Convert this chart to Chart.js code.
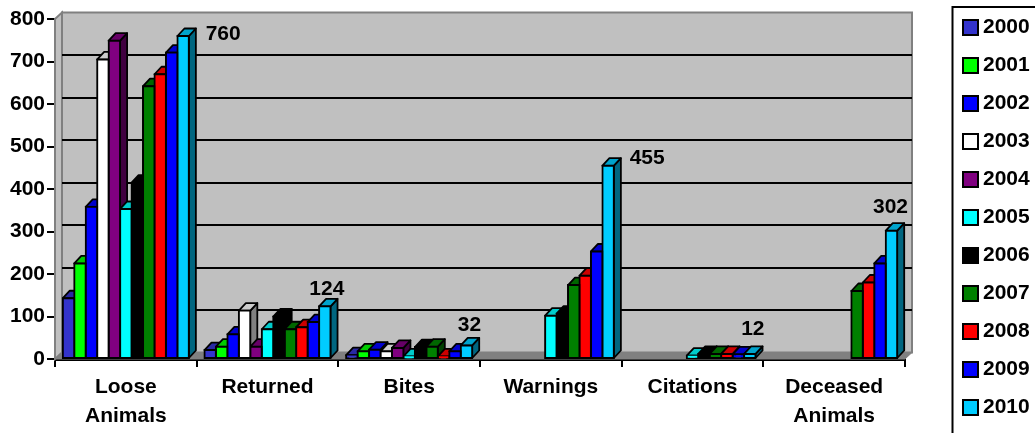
<!DOCTYPE html>
<html>
<head>
<meta charset="utf-8">
<title>Animal control</title>
<script src="https://cdn.jsdelivr.net/npm/chart.js@4"></script>
<style>
  html, body { margin: 0; padding: 0; background: #fff; overflow: hidden; }
  canvas { display: block; }
</style>
</head>
<body>
<canvas id="chart" width="1035" height="460"></canvas>
<script>
const categories = [['Loose', 'Animals'], 'Returned', 'Bites', 'Warnings', 'Citations', ['Deceased', 'Animals']];
const years = ['2000', '2001', '2002', '2003', '2004', '2005', '2006', '2007', '2008', '2009', '2010'];
const colors = ['#3333cc', '#00ff00', '#0000ff', '#ffffff', '#800080', '#00ffff', '#000000', '#008000', '#ff0000', '#0000ff', '#00ccff'];

const v2000 = [143, 21, 9, null, null, null];
const v2001 = [225, 29, 18, null, null, null];
const v2002 = [358, 58, 22, null, null, null];
const v2003 = [705, 114, 18, null, null, null];
const v2004 = [749, 29, 26, null, null, null];
const v2005 = [353, 70, 6, 102, 8, null];
const v2006 = [415, 100, 28, 107, 12, null];
const v2007 = [642, 70, 29, 174, 12, 160];
const v2008 = [670, 75, 6, 196, 12, 180];
const v2009 = [721, 87, 18, 253, 11, 225];
const v2010 = [760, 124, 32, 455, 12, 302];
const series = [v2000, v2001, v2002, v2003, v2004, v2005, v2006, v2007, v2008, v2009, v2010];

const yTicks = [0, 100, 200, 300, 400, 500, 600, 700, 800];

const FONT = '"Liberation Sans", Arial, sans-serif';
const DX = 7;
const WALL_DY = 6.5;
const BAR_DY = 7.5;

// where the 2010 labels sit, relative to the top of their bar
const labelOffsets = [[40, -2], [2, -17], [3, -20], [39, -7], [3, -25], [-1, -23]];

const shade = (hex, f) => {
  const n = parseInt(hex.slice(1), 16);
  const r = Math.round((n >> 16) * f);
  const g = Math.round(((n >> 8) & 255) * f);
  const b = Math.round((n & 255) * f);
  return `rgb(${r},${g},${b})`;
};

const poly = (ctx, pts, fill, stroke, lw) => {
  ctx.beginPath();
  pts.forEach((p, i) => (i ? ctx.lineTo(p[0], p[1]) : ctx.moveTo(p[0], p[1])));
  ctx.closePath();
  ctx.fillStyle = fill;
  ctx.fill();
  if (stroke) {
    ctx.strokeStyle = stroke;
    ctx.lineWidth = lw;
    ctx.stroke();
  }
};

// grey walls and the gridlines on the back wall
const wallPlugin = {
  id: 'walls',
  beforeDatasetsDraw(chart) {
    const { ctx, chartArea: a, scales } = chart;
    ctx.save();
    poly(ctx, [[a.left, a.top], [a.left + DX, a.top - WALL_DY], [a.left + DX, a.bottom - WALL_DY], [a.left, a.bottom]], '#c0c0c0', '#808080', 2);
    poly(ctx, [[a.left + DX, a.top - WALL_DY], [a.right + DX, a.top - WALL_DY], [a.right + DX, a.bottom - WALL_DY], [a.left + DX, a.bottom - WALL_DY]], '#c0c0c0', '#808080', 2);
    poly(ctx, [[a.left, a.bottom], [a.left + DX, a.bottom - WALL_DY], [a.right + DX, a.bottom - WALL_DY], [a.right, a.bottom]], '#808080', '#808080', 1);
    ctx.strokeStyle = '#000';
    ctx.lineWidth = 2;
    yTicks.slice(1, -1).forEach(t => {
      const y = Math.round(scales.y.getPixelForValue(t) - WALL_DY);
      ctx.beginPath();
      ctx.moveTo(a.left + DX, y);
      ctx.lineTo(a.right + DX, y);
      ctx.stroke();
    });
    ctx.restore();
  }
};

// side and top face of each bar, the front comes from the bar element itself
const facesPlugin = {
  id: 'faces',
  beforeDatasetsDraw(chart) {
    const { ctx } = chart;
    ctx.save();
    ctx.lineJoin = 'round';
    chart.data.labels.forEach((label, c) => {
      chart.data.datasets.forEach((ds, d) => {
        if (ds.data[c] === null) return;
        const bar = chart.getDatasetMeta(d).data[c];
        const l = bar.x - bar.width / 2;
        const r = bar.x + bar.width / 2;
        poly(ctx, [[r, bar.y], [r + DX, bar.y - BAR_DY], [r + DX, bar.base - BAR_DY], [r, bar.base]], shade(ds.backgroundColor, 0.5), '#000', 1.8);
        poly(ctx, [[l, bar.y], [l + DX, bar.y - BAR_DY], [r + DX, bar.y - BAR_DY], [r, bar.y]], shade(ds.backgroundColor, 0.8), '#000', 1.8);
      });
    });
    ctx.restore();
  }
};

// numbers over the 2010 bars + the frame around the legend
const labelsPlugin = {
  id: 'labels2010',
  afterDraw(chart) {
    const { ctx, legend } = chart;
    const last = chart.data.datasets.length - 1;
    ctx.save();
    ctx.font = `bold 21px ${FONT}`;
    ctx.fillStyle = '#000';
    ctx.textAlign = 'center';
    ctx.textBaseline = 'middle';
    v2010.forEach((v, i) => {
      const bar = chart.getDatasetMeta(last).data[i];
      ctx.fillText(String(v), bar.x + labelOffsets[i][0], bar.y + labelOffsets[i][1]);
    });
    ctx.strokeStyle = '#000';
    ctx.lineWidth = 2;
    ctx.strokeRect(legend.left + 1, 7, 300, 600);
    ctx.restore();
  }
};

new Chart(document.getElementById('chart'), {
  type: 'bar',
  data: {
    labels: categories,
    datasets: years.map((year, i) => ({
      label: year,
      data: series[i],
      backgroundColor: colors[i],
      borderColor: '#000',
      borderWidth: 2,
      borderSkipped: false,
      inflateAmount: 1,
      categoryPercentage: 0.89,
      barPercentage: 1
    }))
  },
  plugins: [wallPlugin, facesPlugin, labelsPlugin],
  options: {
    responsive: false,
    animation: false,
    layout: { padding: 0 },
    plugins: {
      tooltip: { enabled: false },
      legend: {
        position: 'right',
        align: 'start',
        maxWidth: 83.5,
        labels: {
          color: '#000',
          font: { family: FONT, size: 21, weight: 'bold' },
          usePointStyle: true,
          pointStyle: 'rect',
          boxWidth: 4,
          boxHeight: 15,
          padding: 17
        }
      }
    },
    scales: {
      x: {
        grid: { offset: true, drawOnChartArea: false, color: '#000', lineWidth: 2, tickLength: 8 },
        border: { color: '#000', width: 3 },
        ticks: {
          color: '#000',
          padding: 6,
          maxRotation: 0,
          font: { family: FONT, size: 21, weight: 'bold', lineHeight: 1.38 }
        },
        afterFit(scale) { scale.height = 101; }
      },
      y: {
        min: 0,
        max: 800,
        ticks: {
          stepSize: 100,
          color: '#000',
          padding: 2,
          font: { family: FONT, size: 21, weight: 'bold' }
        },
        grid: { drawOnChartArea: false, color: '#000', lineWidth: 2, tickLength: 8 },
        border: { color: '#000', width: 2 },
        afterFit(scale) { scale.width = 55; }
      },
      // empty axes, they only hold the space above and right of the plot
      x2: {
        type: 'linear',
        position: 'top',
        grid: { display: false },
        border: { display: false },
        ticks: { display: false },
        afterFit(scale) { scale.height = 19; }
      },
      y2: {
        type: 'linear',
        position: 'right',
        grid: { display: false },
        border: { display: false },
        ticks: { display: false },
        afterFit(scale) { scale.width = 46.5; }
      }
    }
  }
});
</script>
</body>
</html>
